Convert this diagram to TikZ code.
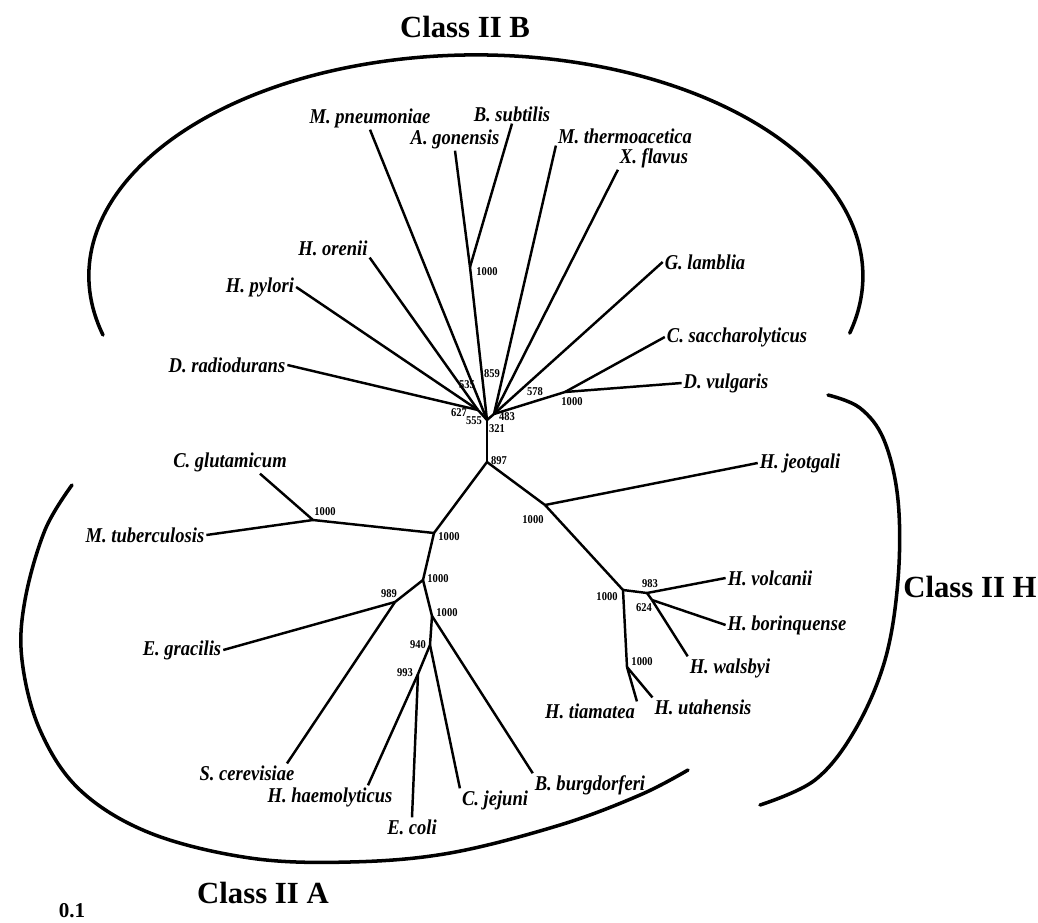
\documentclass[tikz,border=0pt]{standalone}
\usepackage{fontspec}
\setmainfont{Liberation Serif}
\newfontfamily\narrowserif[FakeStretch=0.88]{Liberation Serif}
\usetikzlibrary{calc}

\begin{document}
\begin{tikzpicture}[x=0.02cm, y=-0.02cm,
    leaf/.style={font=\narrowserif\fontsize{12}{13}\selectfont\bfseries\itshape, inner sep=1pt},
    boot/.style={font=\narrowserif\fontsize{6.8}{7}\selectfont\bfseries, inner sep=0pt},
    clade/.style={font=\fontsize{17.5}{20}\selectfont\bfseries},
    branch/.style={line width=1.4pt},
    bracket/.style={line width=2pt, line cap=round}]
    \useasboundingbox (0,0) rectangle (1038,923);

    % Inner junctions
    \coordinate (hub) at (487,420);
    \coordinate (jL) at (478,410);
    \coordinate (jR) at (494,414);
    \coordinate (jAB) at (470,267);
    \coordinate (jCD) at (565,392);
    \coordinate (n897) at (487,462);
    \coordinate (jJeo) at (545,505);
    \coordinate (jHal) at (623,590);
    \coordinate (jVol) at (647,593);
    \coordinate (jBor) at (652,600);
    \coordinate (jUta) at (627,667);
    \coordinate (jII) at (434,533);
    \coordinate (jMyc) at (313,520);
    \coordinate (jA1) at (423,580);
    \coordinate (jEg) at (395,602);
    \coordinate (jA2) at (432,616);
    \coordinate (jA3) at (430,645);
    \coordinate (jA4) at (418,674);

    % Class II B leaves
    \node[leaf] (pneu) at (370,118) {M. pneumoniae};
    \node[leaf] (agon) at (455,139) {A. gonensis};
    \node[leaf] (bsub) at (512,114) {B. subtilis};
    \node[leaf] (therm) at (625,136) {M. thermoacetica};
    \node[leaf] (xfla) at (654,158) {X. flavus};
    \node[leaf] (glam) at (705,262) {G. lamblia};
    \node[leaf] (csac) at (737,337) {C. saccharolyticus};
    \node[leaf] (dvul) at (726,383) {D. vulgaris};
    \node[leaf] (drad) at (227,365) {D. radiodurans};
    \node[leaf] (hpyl) at (260,287) {H. pylori};
    \node[leaf] (hore) at (333,248) {H. orenii};

    % Class II A leaves
    \node[leaf] (cglu) at (230,462) {C. glutamicum};
    \node[leaf] (mtub) at (145,535) {M. tuberculosis};
    \node[leaf] (egra) at (182,650) {E. gracilis};
    \node[leaf] (scer) at (247,773) {S. cerevisiae};
    \node[leaf] (hhae) at (330,797) {H. haemolyticus};
    \node[leaf] (ecol) at (412,827) {E. coli};
    \node[leaf] (cjej) at (495,800) {C. jejuni};
    \node[leaf] (bbur) at (590,785) {B. burgdorferi};

    % Class II H leaves
    \node[leaf] (hjeo) at (800,463) {H. jeotgali};
    \node[leaf] (hvol) at (770,578) {H. volcanii};
    \node[leaf] (hbor) at (787,625) {H. borinquense};
    \node[leaf] (hwal) at (730,668) {H. walsbyi};
    \node[leaf] (huta) at (703,707) {H. utahensis};
    \node[leaf] (htia) at (590,711) {H. tiamatea};

    % Upper branches
    \draw[branch] (hub) -- (pneu.south);
    \draw[branch] (hub) -- (jAB);
    \draw[branch] (jAB) -- (agon.south);
    \draw[branch] (jAB) -- (bsub.south);
    \draw[branch] (jR) -- (therm.south west);
    \draw[branch] (hub) -- (jR);
    \draw[branch] (jR) -- (xfla.south west);
    \draw[branch] (jR) -- (glam.west);
    \draw[branch] (jR) -- (jCD);
    \draw[branch] (jCD) -- (csac.west);
    \draw[branch] (jCD) -- (dvul.west);
    \draw[branch] (hub) -- (jL);
    \draw[branch] (jL) -- (drad.east);
    \draw[branch] (jL) -- (hpyl.east);
    \draw[branch] (jL) -- (hore.south east);

    % Lower branches
    \draw[branch] (hub) -- (n897);
    \draw[branch] (n897) -- (jJeo);
    \draw[branch] (jJeo) -- (hjeo.west);
    \draw[branch] (jJeo) -- (jHal);
    \draw[branch] (jHal) -- (jVol);
    \draw[branch] (jVol) -- (hvol.west);
    \draw[branch] (jVol) -- (jBor);
    \draw[branch] (jBor) -- (hbor.west);
    \draw[branch] (jBor) -- (hwal.north west);
    \draw[branch] (jHal) -- (jUta);
    \draw[branch] (jUta) -- (huta.north west);
    \draw[branch] (jUta) -- (htia.north east);
    \draw[branch] (n897) -- (jII);
    \draw[branch] (jII) -- (jMyc);
    \draw[branch] (jMyc) -- ($(cglu.south)+(30,0)$);
    \draw[branch] (jMyc) -- (mtub.east);
    \draw[branch] (jII) -- (jA1);
    \draw[branch] (jA1) -- (jEg);
    \draw[branch] (jEg) -- (egra.east);
    \draw[branch] (jEg) -- ($(scer.north)+(40,0)$);
    \draw[branch] (jA1) -- (jA2);
    \draw[branch] (jA2) -- (bbur.north west);
    \draw[branch] (jA2) -- (jA3);
    \draw[branch] (jA3) -- (cjej.north west);
    \draw[branch] (jA3) -- (jA4);
    \draw[branch] (jA4) -- (ecol.north);
    \draw[branch] (jA4) -- ($(hhae.north)+(38,0)$);

    % Bootstrap values
    \node[boot] (bAB) at (487,272) {1000};
    \node[boot] (b859) at (492,374) {859};
    \node[boot] (b535) at (467,385) {535};
    \node[boot] (b627) at (459,413) {627};
    \node[boot] (b555) at (474,421) {555};
    \node[boot] (b483) at (507,417) {483};
    \node[boot] (b321) at (497,429) {321};
    \node[boot] (b578) at (535,392) {578};
    \node[boot] (bCD) at (572,402) {1000};
    \node[boot] (b897) at (499,461) {897};
    \node[boot] (bJeo) at (533,520) {1000};
    \node[boot] (bMyc) at (325,512) {1000};
    \node[boot] (bII) at (449,537) {1000};
    \node[boot] (bA1) at (438,579) {1000};
    \node[boot] (b989) at (389,594) {989};
    \node[boot] (bA2) at (447,613) {1000};
    \node[boot] (b940) at (418,645) {940};
    \node[boot] (b993) at (405,673) {993};
    \node[boot] (bHal) at (607,597) {1000};
    \node[boot] (b983) at (650,584) {983};
    \node[boot] (b624) at (644,608) {624};
    \node[boot] (bUta) at (642,662) {1000};

    % Class brackets
    \draw[bracket] (103,335) arc[start angle=164.5, end angle=375, x radius=387, y radius=221];
    \draw[bracket] plot[smooth, tension=0.6] coordinates {(72,485) (45,530) (25,600) (22,660) (40,730) (80,790) (150,833) (250,858) (350,862) (450,853) (560,825) (640,795) (688,770)};
    \draw[bracket] plot[smooth, tension=0.6] coordinates {(828,395) (860,408) (884,440) (898,500) (898,580) (885,660) (855,730) (815,780) (760,805)};

    % Class titles
    \node[clade] (tB) at (465,27) {Class II B};
    \node[clade] (tA) at (263,893) {Class II A};
    \node[clade] (tH) at (970,587) {Class II H};
    \node[font=\fontsize{12}{14}\selectfont\bfseries] (scl) at (72,911) {0.1};
\end{tikzpicture}
\end{document}
